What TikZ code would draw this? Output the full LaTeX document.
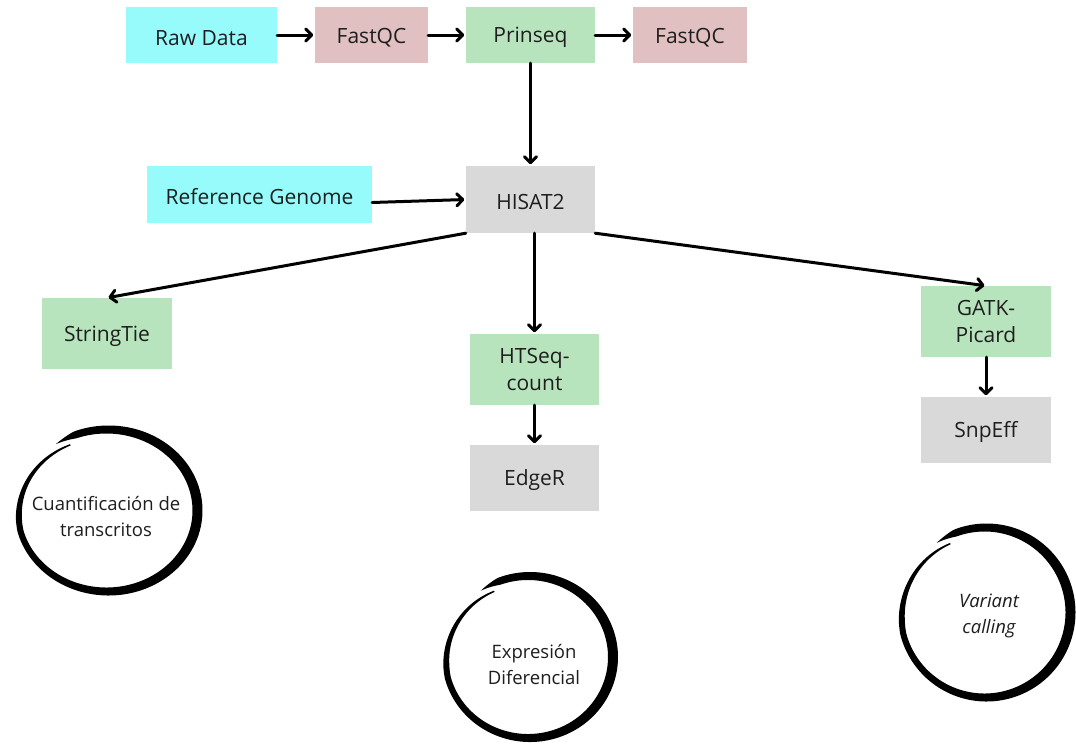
\documentclass[tikz,border=0pt]{standalone}
\usepackage{fontspec}
\setmainfont{Open Sans}
\usetikzlibrary{arrows.meta}
\definecolor{cyanc}{HTML}{97FBFC}
\definecolor{pinkc}{HTML}{E0C0C1}
\definecolor{greenc}{HTML}{B7E4BC}
\definecolor{grayc}{HTML}{D9D9D9}
\definecolor{txt}{HTML}{1E1E1E}
\newcommand\brushring[4]{%
  \fill[black] plot[domain=0:368, samples=220, variable=\s]
    ({#1 + (#3*(1-0.09*max(0,(\s-290)/78)) + 0.5*8*min(1,\s/14)*(1-0.8*max(0,(\s-300)/68))*(1+0.25*cos(125-\s)))*cos(125-\s)},
     {#2 - (#4*(1-0.09*max(0,(\s-290)/78)) + 0.5*8*min(1,\s/14)*(1-0.8*max(0,(\s-300)/68))*(1+0.25*cos(125-\s)))*sin(125-\s)})
    -- plot[domain=368:0, samples=220, variable=\s]
    ({#1 + (#3*(1-0.09*max(0,(\s-290)/78)) - 0.5*8*min(1,\s/14)*(1-0.8*max(0,(\s-300)/68))*(1+0.25*cos(125-\s)))*cos(125-\s)},
     {#2 - (#4*(1-0.09*max(0,(\s-290)/78)) - 0.5*8*min(1,\s/14)*(1-0.8*max(0,(\s-300)/68))*(1+0.25*cos(125-\s)))*sin(125-\s)})
    -- cycle;}
\begin{document}
\begin{tikzpicture}[x=1pt,y=-1pt,
  box/.style={rectangle, inner sep=0pt, text=txt, align=center,
    font=\fontsize{21}{26.5}\selectfont,
    execute at begin node={\rule{0pt}{21pt}}},
  lbl/.style={text=txt, align=center, font=\fontsize{18.5}{26}\selectfont},
  conn/.style={draw=black, line width=3pt, line cap=round, shorten >=1.5pt,
    -{Straight Barb[length=6pt,width=12pt,line width=3pt,round]}}]
\useasboundingbox[fill=white] (0,0) rectangle (1076,744);

\node[box, fill=cyanc, minimum width=151pt, minimum height=56pt] (raw) at (201.5,35) {Raw Data};
\node[box, fill=pinkc, minimum width=113pt, minimum height=56pt] (fq1) at (371.5,35) {FastQC};
\node[box, fill=greenc, minimum width=129pt, minimum height=56pt] (pri) at (530.5,35) {Prinseq};
\node[box, fill=pinkc, minimum width=114pt, minimum height=56pt] (fq2) at (690,35) {FastQC};
\node[box, fill=cyanc, minimum width=225pt, minimum height=57pt] (ref) at (259.5,194.5) {Reference Genome};
\node[box, fill=grayc, minimum width=129pt, minimum height=67pt] (hisat) at (530.5,199.5) {HISAT2};
\node[box, fill=greenc, minimum width=130pt, minimum height=71pt] (string) at (107,333.5) {StringTie};
\node[box, fill=greenc, minimum width=129pt, minimum height=71pt] (htseq) at (534.5,369.5) {HTSeq-\\count};
\node[box, fill=grayc, minimum width=129pt, minimum height=66pt] (edger) at (534.5,478) {EdgeR};
\node[box, fill=greenc, minimum width=130pt, minimum height=71pt] (gatk) at (986,321.5) {GATK-\\Picard};
\node[box, fill=grayc, minimum width=130pt, minimum height=66pt] (snpeff) at (986,430) {SnpEff};

\draw[conn] (raw.east) -- (fq1.west);
\draw[conn] (fq1.east) -- (pri.west);
\draw[conn] (pri.east) -- (fq2.west);
\draw[conn] (pri.south) -- (hisat.north);
\draw[conn] ([yshift=-8pt]ref.east) -- (hisat.west);
\draw[conn] (hisat.south west) -- (string.north);
\draw[conn] ([xshift=4pt]hisat.south) -- (htseq.north);
\draw[conn] (hisat.south east) -- (gatk.north);
\draw[conn] (htseq.south) -- (edger.north);
\draw[conn] (gatk.south) -- (snpeff.north);

\brushring{107.5}{510.5}{90}{81}
\brushring{529}{657}{84}{81}
\brushring{985.5}{612.5}{85}{85}

\node[lbl] (c1) at (106,516) {Cuantificación de\\transcritos};
\node[lbl] (c2) at (534,664) {Expresión\\Diferencial};
\node[lbl, font=\fontsize{18.5}{26}\selectfont\itshape] (c3) at (989,616) {Variant\\calling};
\end{tikzpicture}
\end{document}
